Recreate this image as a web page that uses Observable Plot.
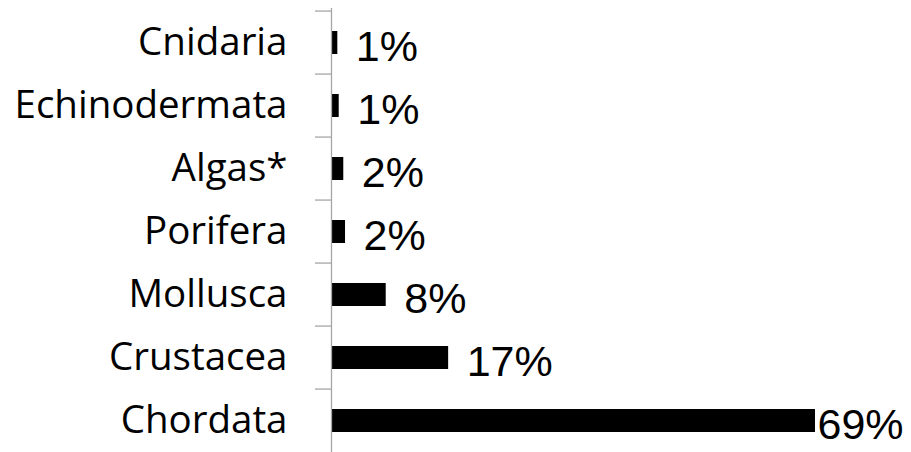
<!DOCTYPE html>
<html>
<head>
<meta charset="utf-8">
<script src="https://cdn.jsdelivr.net/npm/d3@7"></script>
<script src="https://cdn.jsdelivr.net/npm/@observablehq/plot@0.6"></script>
<style>
  html, body { margin: 0; padding: 0; background: #fff; }
  #chart svg { display: block; }
</style>
</head>
<body>
<div id="chart"></div>
<script>
const categories = ["Cnidaria", "Echinodermata", "Algas*", "Porifera", "Mollusca", "Crustacea", "Chordata"];
const values = [0.9, 1.1, 1.75, 2.0, 7.8, 16.7, 69];
const labels = ["1%", "1%", "2%", "2%", "8%", "17%", "69%"];

const data = categories.map((c, i) => ({category: c, value: values[i], label: labels[i]}));

const W = 911, H = 452, mTop = 8, mBottom = -3;
const bw = (H - mBottom - mTop) / categories.length;

const chart = Plot.plot({
  width: W,
  height: H,
  marginTop: mTop,
  marginBottom: mBottom,
  marginLeft: 331,
  marginRight: 96,
  style: {background: "#fff", color: "#000"},
  x: {domain: [0, 69], axis: null},
  y: {domain: categories, padding: 0, label: null},
  marks: [
    Plot.axisY({tickSize: 0, tickPadding: 44, fontSize: 38.5, fontFamily: "Open Sans", label: null, fill: "#000"}),
    Plot.barX(data, {y: "category", x: "value", fill: "#000", insetTop: 20, insetBottom: 20}),
    Plot.ruleX([0], {stroke: "#a6a6a6", strokeWidth: 1.3}),
    Plot.ruleY(categories, {y: d => d, x1: 0, x2: 0, insetLeft: -16, dy: -bw / 2, stroke: "#a6a6a6", strokeWidth: 1.3}),
    Plot.ruleY(categories.slice(-1), {y: d => d, x1: 0, x2: 0, insetLeft: -16, dy: bw / 2, stroke: "#a6a6a6", strokeWidth: 1.3}),
    Plot.text(data.filter(d => d.value < 50), {y: "category", x: "value", text: "label", textAnchor: "start", dx: 18, dy: 4, fontSize: 43, fontFamily: "Liberation Sans", fill: "#000"}),
    Plot.text(data.filter(d => d.value >= 50), {y: "category", x: "value", text: "label", textAnchor: "start", dx: 2, dy: 4, fontSize: 43, fontFamily: "Liberation Sans", fill: "#000"})
  ]
});
document.getElementById("chart").appendChild(chart);
</script>
</body>
</html>
